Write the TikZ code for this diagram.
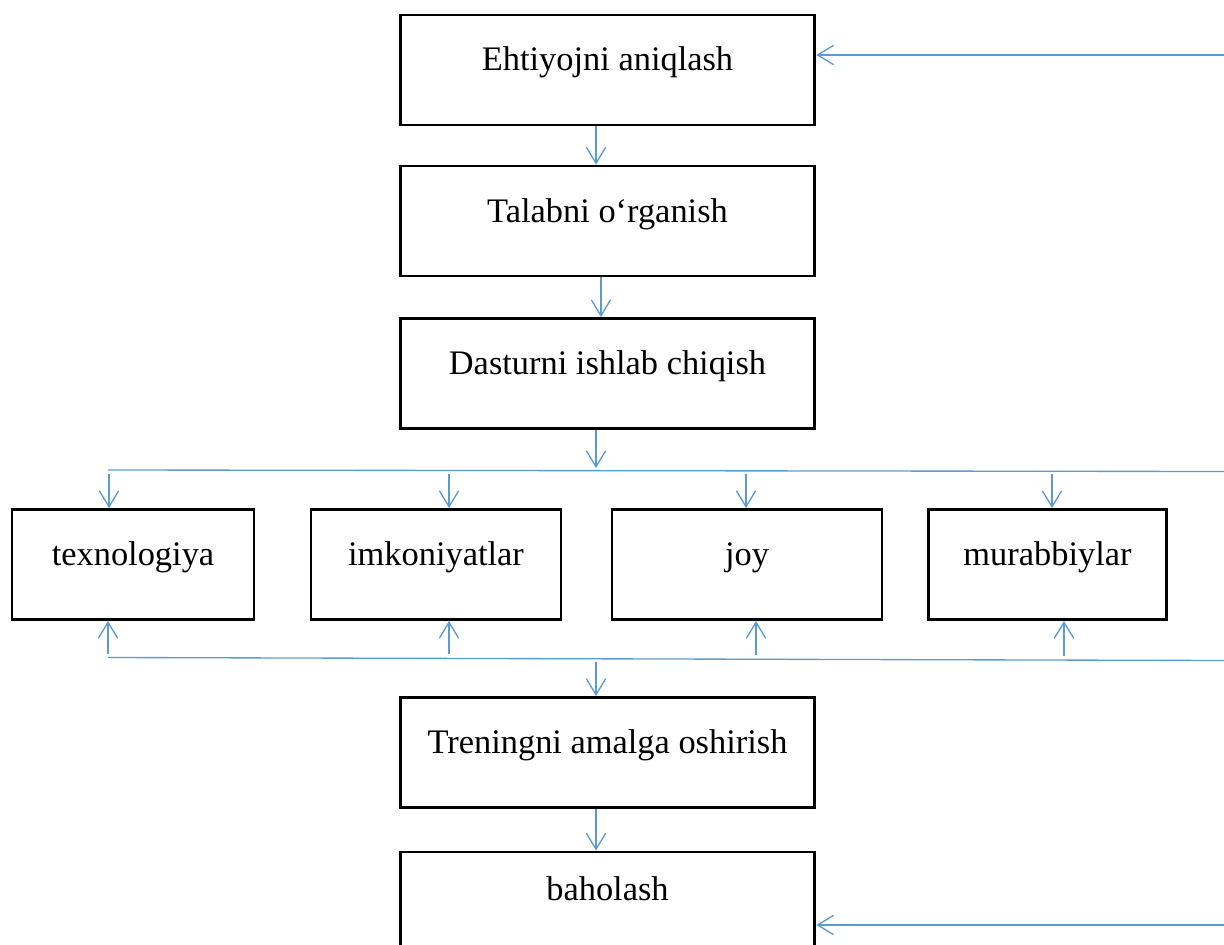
\documentclass[tikz,border=0pt]{standalone}
\usepackage{fontspec}
\setmainfont{Liberation Serif}
\usetikzlibrary{arrows.meta,calc}
\definecolor{lineblue}{HTML}{5B9BD5}
\newcommand\boxfont{\fontsize{25.8}{29}\selectfont}
\tikzset{
  box/.style={draw=black, line width=2.2pt, rectangle, minimum height=82.5pt,
    text height=10pt, text depth=8.5pt, inner sep=0pt, font=\boxfont},
  arr/.style={draw=lineblue, line width=1pt, -{Straight Barb[length=12pt,width=14.5pt]}},
  ln/.style={draw=lineblue, line width=1pt}
}
\begin{document}
\begin{tikzpicture}[x=0.75pt,y=-0.75pt]
\useasboundingbox (0,0) rectangle (1224,945);
\clip (0,0) rectangle (1224,945);
% main column
\node[box, minimum width=311pt] (b1) at (607.5,70) {Ehtiyojni aniqlash};
\node[box, minimum width=311pt] (b2) at (607.5,221) {Talabni o‘rganish};
\node[box, minimum width=311pt] (b3) at (607.5,373.5) {Dasturni ishlab chiqish};
% resources row
\node[box, minimum width=181.5pt] (r1) at (133,564.5) {texnologiya};
\node[box, minimum width=187.5pt] (r2) at (436,564.5) {imkoniyatlar};
\node[box, minimum width=202.5pt] (r3) at (747,564.5) {joy};
\node[box, minimum width=179pt] (r4) at (1047.5,564.5) {murabbiylar};
% lower column
\node[box, minimum width=311pt] (b5) at (607.5,752.5) {Treningni amalga oshirish};
\node[box, minimum width=311pt, text depth=20.5pt] (b6) at (607.5,907) {baholash};

% feedback arrows from the right edge
\coordinate (in1) at (1224,55);
\coordinate (in2) at (1224,925);
\draw[arr] (in1) -- (in1 -| b1.east);
\draw[arr] (in2) -- (in2 -| b6.east);

% main flow
\draw[arr] ([xshift=-8.6pt]b1.south) -- ([xshift=-8.6pt]b2.north);
\draw[arr] ([xshift=-4.9pt]b2.south) -- ([xshift=-4.9pt]b3.north);

% upper distribution line
\coordinate (hl1) at (108,470);
\coordinate (hr1) at (1224,471.5);
\draw[ln] (hl1) -- (hr1);
\coordinate (j1) at (596,468);
\draw[arr] (j1 |- b3.south) -- (j1);
\coordinate (d1) at (109,473.5);
\coordinate (d2) at (449,473.5);
\coordinate (d3) at (746,473.5);
\coordinate (d4) at (1052,473.5);
\draw[arr] (d1) -- (d1 |- r1.north);
\draw[arr] (d2) -- (d2 |- r2.north);
\draw[arr] (d3) -- (d3 |- r3.north);
\draw[arr] (d4) -- (d4 |- r4.north);

% lower collecting line
\coordinate (hl2) at (108,657.5);
\coordinate (hr2) at (1224,660.5);
\draw[ln] (hl2) -- (hr2);
\coordinate (u1) at (108,654);
\coordinate (u2) at (449,654);
\coordinate (u3) at (756,655);
\coordinate (u4) at (1064,655.5);
\draw[arr] (u1) -- (u1 |- r1.south);
\draw[arr] (u2) -- (u2 |- r2.south);
\draw[arr] (u3) -- (u3 |- r3.south);
\draw[arr] (u4) -- (u4 |- r4.south);
\coordinate (j2) at (596,661.5);
\draw[arr] (j2) -- (j2 |- b5.north);
\draw[arr] ([xshift=-8.6pt]b5.south) -- ([xshift=-8.6pt]b6.north);
\end{tikzpicture}
\end{document}
